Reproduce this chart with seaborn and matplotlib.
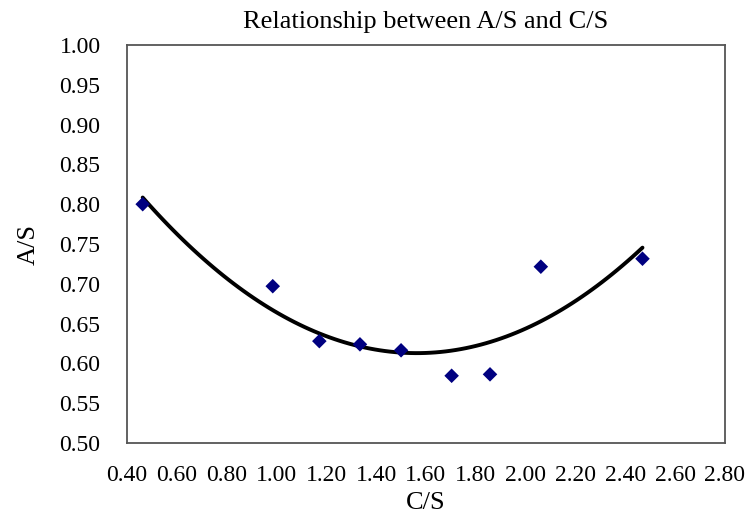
import matplotlib
matplotlib.use("Agg")
import matplotlib.pyplot as plt
import seaborn as sns
import pandas as pd
import numpy as np

cs = [0.463, 0.985, 1.172, 1.335, 1.500, 1.703, 1.857, 2.061, 2.469]
as_ = [0.800, 0.697, 0.628, 0.624, 0.6165, 0.5845, 0.5863, 0.7215, 0.7315]
xticks = [0.40, 0.60, 0.80, 1.00, 1.20, 1.40, 1.60, 1.80, 2.00, 2.20, 2.40, 2.60, 2.80]
yticks = [0.50, 0.55, 0.60, 0.65, 0.70, 0.75, 0.80, 0.85, 0.90, 0.95, 1.00]

df = pd.DataFrame({"C/S": cs, "A/S": as_})

sns.set_style("white")
plt.rcParams["font.family"] = ["Liberation Serif", "DejaVu Serif"]
plt.rcParams["text.color"] = "black"
plt.rcParams["axes.labelcolor"] = "black"
plt.rcParams["xtick.color"] = "black"
plt.rcParams["ytick.color"] = "black"

fig = plt.figure(figsize=(7.47, 5.2), dpi=100)
ax = fig.add_axes([0.170, 0.148, 0.8005, 0.7655])

sns.regplot(data=df, x="C/S", y="A/S", order=2, ci=None, scatter=False,
            line_kws={"color": "black", "lw": 2.8}, ax=ax)
sns.scatterplot(data=df, x="C/S", y="A/S", marker="D", color="#000080",
                s=55, edgecolor="none", ax=ax, zorder=3)

ax.set_xlim(0.40, 2.80)
ax.set_ylim(0.50, 1.00)
ax.set_xticks(xticks)
ax.set_yticks(yticks)
ax.set_xticklabels([f"{v:.2f}" for v in xticks], fontsize=17)
ax.set_yticklabels([f"{v:.2f}" for v in yticks], fontsize=17)
ax.tick_params(axis="both", direction="in", length=5, width=1, color="#333333",
               labelcolor="black")
ax.tick_params(axis="y", pad=19)
ax.tick_params(axis="x", pad=16)
for s in ax.spines.values():
    s.set_color("#555555")
    s.set_linewidth(1.3)

ax.set_xlabel("C/S", fontsize=19, labelpad=4, color="black")
ax.set_ylabel("A/S", fontsize=19, labelpad=14, color="black")
ax.set_title("Relationship between A/S and C/S", fontsize=19, pad=12, color="black")

fig.savefig("out.png", dpi=100)
